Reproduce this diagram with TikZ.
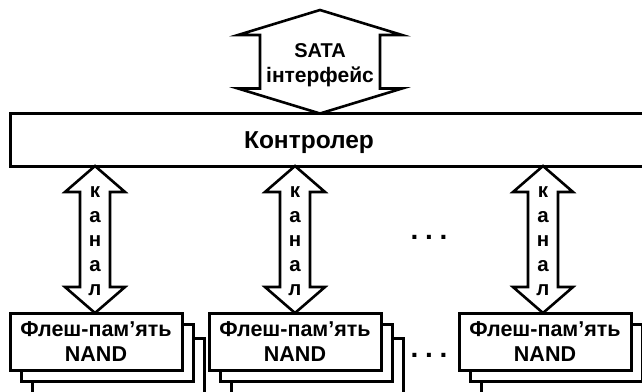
\documentclass[tikz,border=0pt]{standalone}
\usepackage{fontspec}
\setmainfont{Liberation Sans}
\usetikzlibrary{calc}
\tikzset{
  box/.style={draw, line width=3pt, fill=white, inner sep=0pt, outer sep=0pt},
  flashbox/.style={box, minimum width=172pt, minimum height=57pt,
    font=\fontsize{21.5}{25}\selectfont\bfseries, align=center},
  barrow/.style={draw, line width=2.6pt, fill=white, line join=miter},
  lbl/.style={inner sep=0pt, outer sep=0pt},
  chanfont/.style={lbl, font=\fontsize{20.5}{24}\selectfont\bfseries, anchor=base},
  dotsfont/.style={lbl, font=\fontsize{28}{30}\selectfont\bfseries, anchor=base},
}
% double block arrow between two tip coordinates: #1 top tip, #2 bottom tip,
% #3 head half width, #4 shaft half width, #5 head length
\newcommand\dblblockarrow[5]{%
  \draw[barrow] (#1) -- ($(#1)+(#3,#5)$) -- ($(#1)+(#4,#5)$) -- ($(#2)+(#4,-#5)$)
    -- ($(#2)+(#3,-#5)$) -- (#2) -- ($(#2)+(-#3,-#5)$) -- ($(#2)+(-#4,-#5)$)
    -- ($(#1)+(-#4,#5)$) -- ($(#1)+(-#3,#5)$) -- cycle;}
\begin{document}
\begin{tikzpicture}[x=1pt,y=-1pt]
\useasboundingbox (0,0) rectangle (642,391);
\clip (0,0) rectangle (642,391);

% controller
\node[box, minimum width=660pt, minimum height=52.5pt, anchor=north west] (ctrl) at (10,113.5) {};
\node[lbl, font=\fontsize{24.5}{28}\selectfont\bfseries, anchor=base] (ctrltxt) at (309,148) {Контролер};

% SATA arrow
\coordinate (satatop) at (320,10);
\coordinate (satabot) at (satatop |- ctrl.north);
\dblblockarrow{satatop}{satabot}{82}{60}{25}
\node[lbl, font=\fontsize{20}{22}\selectfont\bfseries, anchor=base] (sata) at (320,57) {SATA};
\node[lbl, font=\fontsize{21}{22}\selectfont\bfseries, anchor=base] (iface) at (320,82) {інтерфейс};

% flash memory stacks
\foreach \n/\x in {a/10,b/209,c/459}{
  \node[flashbox, anchor=north west] (\n3) at (\x+22,338) {};
  \node[flashbox, anchor=north west] (\n2) at (\x+11,324) {};
  \node[flashbox, anchor=north west] (\n1) at (\x,313) {Флеш-пам’ять\\NAND};
}

% channels
\foreach \n/\cx in {a/95,b/295,c/543}{
  \coordinate (\n top) at (\cx,166);
  \coordinate (\n bot) at (\n top |- \n1.north);
  \dblblockarrow{\n top}{\n bot}{30}{15}{26}
  \foreach \c [count=\i from 0] in {к,а,н,а,л}{
    \node[chanfont] (\n ch\i) at (\cx,197.5+24.5*\i) {\c};
  }
}

% ellipses
\node[dotsfont] (dotsup) at (429,239) {.\hspace{6.7pt}.\hspace{6.7pt}.};
\node[dotsfont] (dotslow) at (429,357) {.\hspace{6.7pt}.\hspace{6.7pt}.};
\end{tikzpicture}
\end{document}
